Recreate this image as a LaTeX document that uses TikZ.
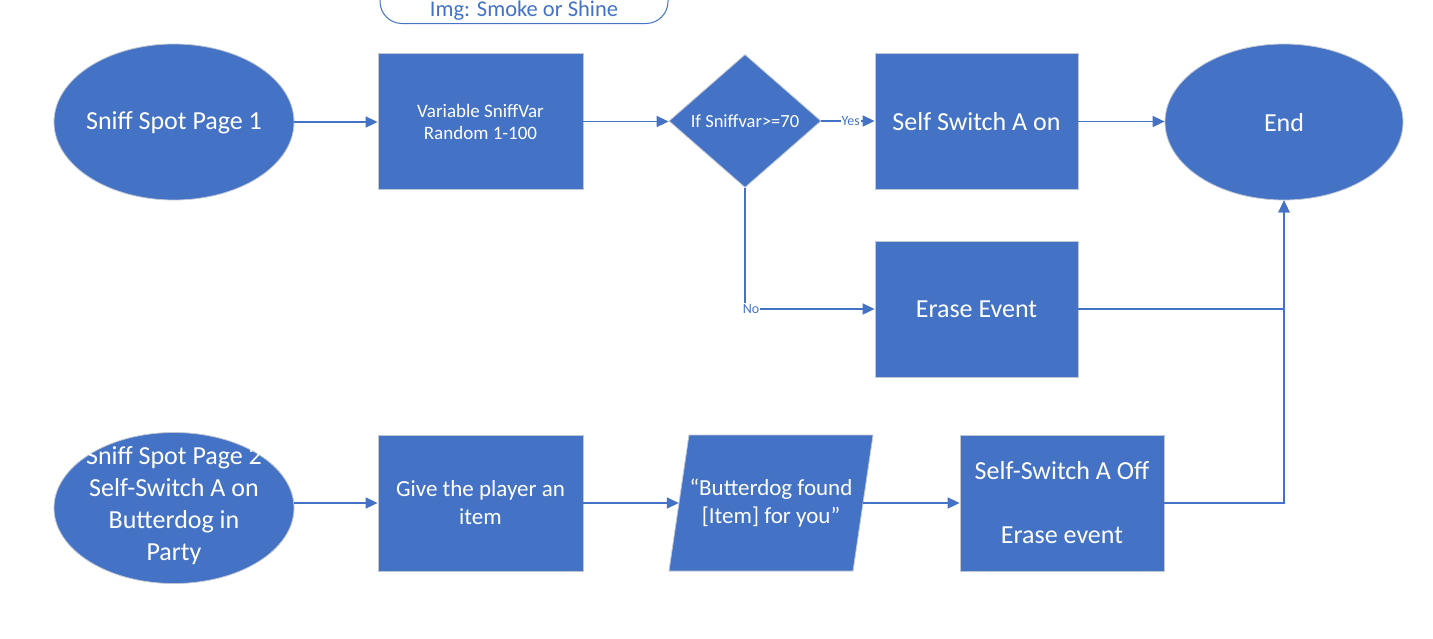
\documentclass[tikz,border=0pt]{standalone}
\usepackage{fontspec}
\setmainfont{Carlito}
\usetikzlibrary{shapes.geometric,arrows.meta}
\definecolor{fc}{HTML}{4472C4}
\definecolor{bc}{HTML}{BFC6D4}
\tikzset{
  shp/.style={fill=fc, draw=bc, line width=0.8pt, text=white, align=center, inner sep=2pt},
  boxn/.style={shp, rectangle, minimum width=205pt, minimum height=136pt},
  ell/.style={shp, ellipse, minimum width=240pt, minimum height=156pt, inner sep=0pt},
  txt/.style={text=white, align=center, inner sep=0pt},
  conn/.style={draw=fc, line width=1.7pt, -{Triangle[length=12pt,width=11pt]}},
  lbl/.style={fill=white, text=fc, font=\fontsize{14}{16}\selectfont, inner sep=1pt},
  big/.style={font=\fontsize{26}{32}\selectfont},
  mid/.style={font=\fontsize{23}{28}\selectfont},
  sml/.style={font=\fontsize{19}{22}\selectfont}
}
\begin{document}
\begin{tikzpicture}[x=1pt,y=-1pt]
\useasboundingbox (0,0) rectangle (1433,638);
\clip (0,0) rectangle (1433,638);
% top cut-off box
\node[draw=fc, line width=1pt, rounded corners=22pt, minimum width=288pt, text=fc,
      font=\fontsize{22.5}{26}\selectfont, text height=46pt, text depth=7pt, inner ysep=0pt,
      anchor=south] (img) at (524,24) {Img: Smoke or Shine};
% row 1
\node[ell] (e1) at (174,122) {};
\node[txt, big] (e1t) at (174,123) {Sniff Spot Page 1};
\node[boxn, sml] (var) at (480.5,121.5) {Variable SniffVar\\Random 1-100};
\node[shp, diamond, aspect=1.14, minimum width=152pt, minimum height=133pt, inner sep=0pt,
      font=\fontsize{18.5}{22}\selectfont] (dia) at (745,121) {If Sniffvar>=70};
\node[boxn, big, minimum width=203pt] (sson) at (976.5,121.5) {Self Switch A on};
\node[ell, minimum width=238pt] (end) at (1284,122) {};
\node[txt, big] (endt) at (1284,123) {End};
% row 2
\node[boxn, big, minimum width=203pt] (erase) at (976.5,309) {Erase Event};
% row 3
\node[ell, minimum height=151pt] (e2) at (174,508) {};
\node[txt, big] (e2t) at (174,506) {Sniff Spot Page 2\\Self-Switch A on\\Butterdog in\\Party};
\node[boxn, mid] (give) at (480.5,503) {Give the player an\\item};
\fill[fc, draw=bc, line width=0.8pt] (689,435) -- (873,435) -- (853,571) -- (669,571) -- cycle;
\node[txt, mid, minimum width=184pt, minimum height=136pt] (para) at (771,503)
      {“Butterdog found\\{[}Item{]} for you”};
\node[boxn, big, minimum width=204pt] (off) at (1062,503) {Self-Switch A Off\\ \\Erase event};
% connectors
\draw[conn] (e1.east) -- (e1.east -| var.west);
\draw[conn] (var.east) -- (var.east -| dia.west);
\draw[conn] (dia.east) -- node[lbl, pos=0.55] {Yes} (dia.east -| sson.west);
\draw[conn] (sson.east) -- (sson.east -| end.west);
\draw[conn] (dia.south) |- node[lbl, pos=0.5, xshift=6pt] {No} (erase.west);
\draw[conn] (erase.east) -| (end.south);
\draw[conn] (off.east) -| (end.south);
\draw[conn] (give.west -| e2.east) -- (give.west);
\draw[conn] (give.east) -- (para.west);
\draw[conn] (para.east) -- (off.west);
\end{tikzpicture}
\end{document}
